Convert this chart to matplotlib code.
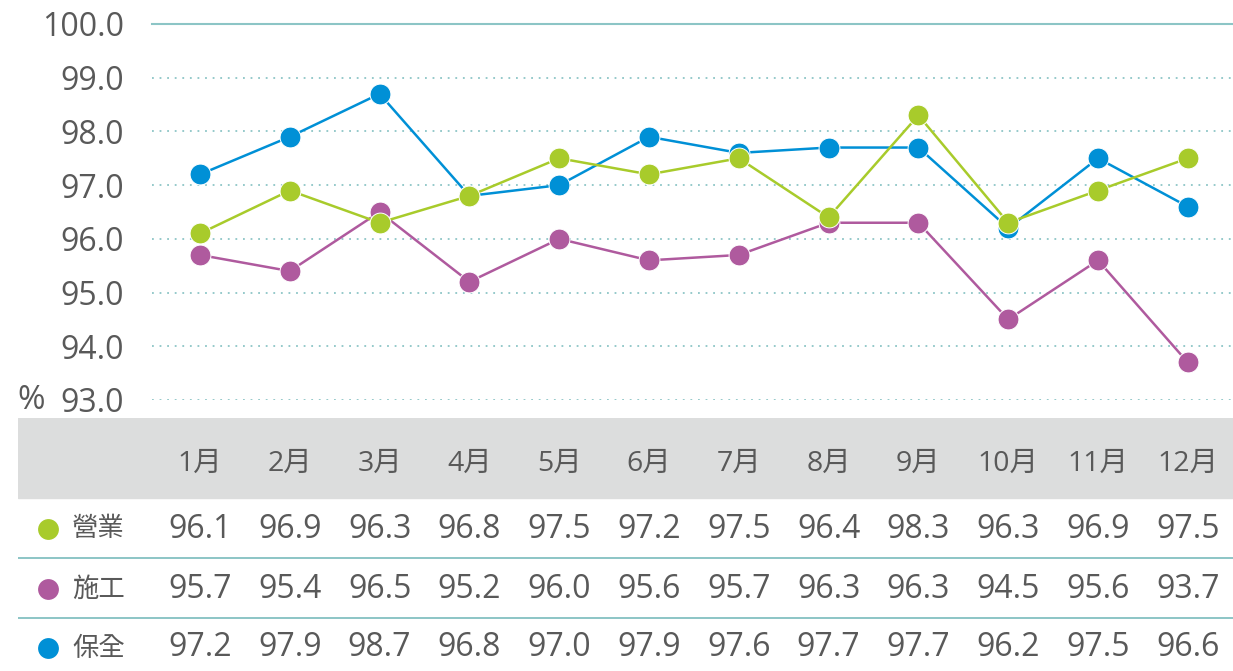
import matplotlib
matplotlib.use("Agg")
import matplotlib.pyplot as plt

months = ["1月", "2月", "3月", "4月", "5月", "6月", "7月", "8月", "9月", "10月", "11月", "12月"]
series_names = ["營業", "施工", "保全"]
eigyo = [96.1, 96.9, 96.3, 96.8, 97.5, 97.2, 97.5, 96.4, 98.3, 96.3, 96.9, 97.5]
seko = [95.7, 95.4, 96.5, 95.2, 96.0, 95.6, 95.7, 96.3, 96.3, 94.5, 95.6, 93.7]
hozen = [97.2, 97.9, 98.7, 96.8, 97.0, 97.9, 97.6, 97.7, 97.7, 96.2, 97.5, 96.6]
yticks = [93.0, 94.0, 95.0, 96.0, 97.0, 98.0, 99.0, 100.0]

colors = {"營業": "#A8CB2B", "施工": "#AF5A9E", "保全": "#0090D6"}
values = {"營業": eigyo, "施工": seko, "保全": hozen}
TXT = "#595959"
TEAL = "#8CC5C6"
FONT = ["Open Sans", "Noto Sans CJK TC", "DejaVu Sans"]
CJK = ["Noto Sans CJK TC", "DejaVu Sans"]

W, H = 1233, 671
fig = plt.figure(figsize=(W / 100, H / 100), dpi=100)

x = list(range(1, len(months) + 1))
step = 89.8
x_left_chart = 1 - (200 - 152) / step
x_left_table = 1 - (200 - 18) / step
x_right = 1 + (W - 200) / step

# ---- chart ----
ax = fig.add_axes([152 / W, 1 - 400 / H, 1 - 152 / W, (400 - 24) / H])
ax.set_xlim(x_left_chart, x_right)
ax.set_ylim(93.0, 100.0)
for s in ax.spines.values():
    s.set_visible(False)
ax.set_xticks([])
ax.set_yticks(yticks)
ax.set_yticklabels([f"{v:.1f}" for v in yticks], fontsize=23, color=TXT, family=FONT)
ax.tick_params(axis="y", length=0, pad=20)
for v in yticks:
    if v == 100.0:
        ax.axhline(v, color=TEAL, lw=1.5, zorder=1, clip_on=False)
    else:
        ax.axhline(v, color=TEAL, lw=1.3, ls=(0, (1, 3.2)), zorder=1)

for name in ["施工", "保全", "營業"]:
    ax.plot(x, values[name], color=colors[name], lw=1.8, marker="o", ms=15,
            mec="white", mew=0.7, zorder=3, clip_on=False)

fig.text(17 / W, 1 - 401 / H, "%", fontsize=24, color=TXT, family=FONT, ha="left", va="center")

# ---- table ----
tax = fig.add_axes([18 / W, 0, 1 - 18 / W, (H - 418) / H])
tax.set_xlim(x_left_table, x_right)
tax.set_ylim(H, 418)
tax.axis("off")

tax.axhspan(418, 498, color="#DCDDDD", zorder=0)
for yy in (558, 618):
    tax.axhline(yy, color=TEAL, lw=1.4, zorder=1)

for xi, m in zip(x, months):
    tax.text(xi, 464, m, ha="center", va="center", fontsize=20.5, color=TXT, family=FONT)

row_y = {"營業": 529, "施工": 589, "保全": 648}
x_marker = 1 - (200 - 48) / step
x_label = 1 - (200 - 72) / step
for name in series_names:
    yy = row_y[name]
    tax.plot([x_marker], [yy], "o", color=colors[name], ms=15, mew=0)
    tax.text(x_label, yy, name, ha="left", va="center",
             fontsize=19, color=TXT, family=CJK)
    for xi, v in zip(x, values[name]):
        tax.text(xi, yy, f"{v:.1f}", ha="center", va="center", fontsize=23, color=TXT, family=FONT)

fig.savefig("out.png", dpi=100)
